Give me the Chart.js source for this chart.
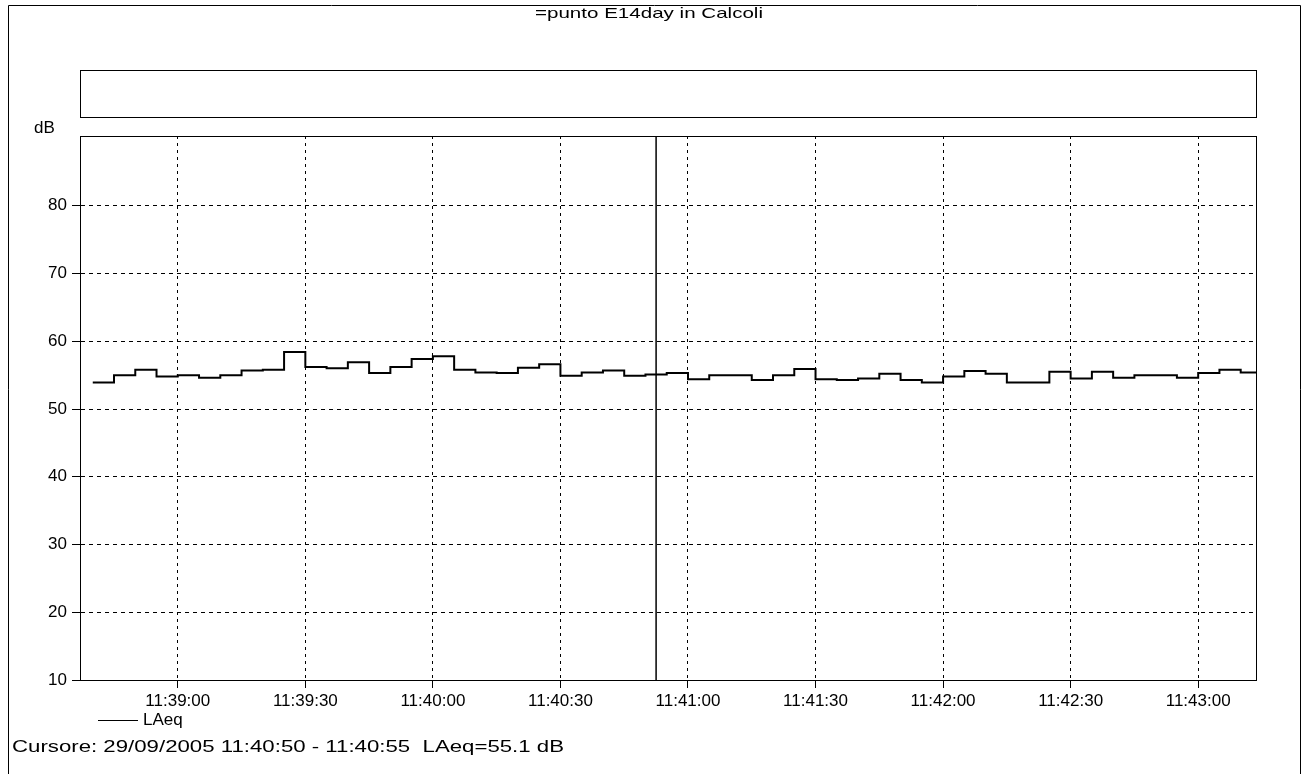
<!DOCTYPE html>
<html>
<head>
<meta charset="utf-8">
<script src="https://cdn.jsdelivr.net/npm/chart.js@4.4.0/dist/chart.umd.min.js"></script>
<style>
html, body { margin: 0; padding: 0; background: #fff; }
#wrap { width: 1309px; height: 774px; position: relative; }
</style>
</head>
<body>
<div id="wrap"><canvas id="c" width="1309" height="774"></canvas></div>
<script>
// testi del grafico
const chartTitle = '=punto E14day in Calcoli';
const seriesName = 'LAeq';
const unitLabel = 'dB';
const cursorText = 'Cursore: 29/09/2005 11:40:50 - 11:40:55  LAeq=55.1 dB';

// inizio di ogni intervallo da 5 s (l'ultimo valore chiude la scala a gradini)
const times = [
    '11:38:40', '11:38:45', '11:38:50', '11:38:55',
    '11:39:00', '11:39:05', '11:39:10', '11:39:15', '11:39:20', '11:39:25',
    '11:39:30', '11:39:35', '11:39:40', '11:39:45', '11:39:50', '11:39:55',
    '11:40:00', '11:40:05', '11:40:10', '11:40:15', '11:40:20', '11:40:25',
    '11:40:30', '11:40:35', '11:40:40', '11:40:45', '11:40:50', '11:40:55',
    '11:41:00', '11:41:05', '11:41:10', '11:41:15', '11:41:20', '11:41:25',
    '11:41:30', '11:41:35', '11:41:40', '11:41:45', '11:41:50', '11:41:55',
    '11:42:00', '11:42:05', '11:42:10', '11:42:15', '11:42:20', '11:42:25',
    '11:42:30', '11:42:35', '11:42:40', '11:42:45', '11:42:50', '11:42:55',
    '11:43:00', '11:43:05', '11:43:10', '11:43:15'
];

// LAeq in dB, uno per intervallo
const laeq = [
    53.9, 55.0, 55.8, 54.8,
    55.0, 54.6, 55.0, 55.7, 55.8, 58.4,
    56.2, 56.0, 56.9, 55.3, 56.2, 57.4,
    57.8, 55.8, 55.4, 55.3, 56.1, 56.6,
    54.9, 55.4, 55.7, 54.9, 55.1, 55.3,
    54.4, 55.0, 55.0, 54.3, 55.0, 55.9,
    54.4, 54.3, 54.5, 55.2, 54.3, 53.9,
    54.8, 55.6, 55.2, 53.9, 53.9, 55.5,
    54.5, 55.5, 54.6, 55.0, 55.0, 54.6,
    55.3, 55.8, 55.4
];

const xTickLabels = ['11:39:00', '11:39:30', '11:40:00', '11:40:30', '11:41:00',
    '11:41:30', '11:42:00', '11:42:30', '11:43:00'];
const yTickValues = [10, 20, 30, 40, 50, 60, 70, 80];
const xRange = ['11:38:37', '11:43:13.6'];
const yRange = [10, 90.3];
const cursorTime = '11:40:52.5';

const FONT = "'Liberation Sans', Arial, sans-serif";

function toSec(t) {
    const p = t.split(':');
    return +p[0] * 3600 + +p[1] * 60 + parseFloat(p[2]);
}

function fmt(sec) {
    const s = Math.round(sec);
    const h = Math.floor(s / 3600), m = Math.floor(s / 60) % 60, ss = s % 60;
    const two = n => String(n).padStart(2, '0');
    return h + ':' + two(m) + ':' + two(ss);
}

// testo allargato in orizzontale fino alla larghezza voluta (la stampa è "stirata")
function stretchText(ctx, text, x, y, width) {
    const w = ctx.measureText(text).width;
    ctx.save();
    ctx.translate(x, y);
    ctx.scale(width / w, 1);
    ctx.fillText(text, 0, 0);
    ctx.restore();
}

const points = times.map((t, i) => ({ x: toSec(t), y: laeq[Math.min(i, laeq.length - 1)] }));

// cornici, titolo, legenda, cursore
const decor = {
    id: 'decor',
    afterDatasetsDraw(chart) {
        const { ctx, chartArea: a, scales } = chart;
        const cx = scales.x.getPixelForValue(toSec(cursorTime));
        ctx.save();
        ctx.strokeStyle = '#000';
        ctx.lineWidth = 1.5;
        ctx.beginPath();
        ctx.moveTo(cx, a.top);
        ctx.lineTo(cx, a.bottom);
        ctx.stroke();
        ctx.restore();
    },
    afterDraw(chart) {
        const { ctx, chartArea: a } = chart;
        ctx.save();
        ctx.strokeStyle = '#000';
        ctx.lineWidth = 1;

        // riquadro del grafico
        ctx.strokeRect(a.left + 0.5, a.top + 0.5, a.right - a.left, a.bottom - a.top);
        // riquadro vuoto superiore
        ctx.strokeRect(a.left + 0.5, 70.5, a.right - a.left, 47);

        // cornice esterna
        ctx.beginPath();
        ctx.moveTo(8.5, 774);
        ctx.lineTo(8.5, 5.5);
        ctx.lineTo(1300.5, 5.5);
        ctx.lineTo(1300.5, 774);
        ctx.stroke();

        ctx.fillStyle = '#000';
        ctx.textBaseline = 'middle';
        ctx.textAlign = 'left';

        ctx.font = '15px ' + FONT;
        stretchText(ctx, chartTitle, 535, 14, 228);

        ctx.font = '17px ' + FONT;
        ctx.fillText(unitLabel, 34, 128);

        // legenda
        ctx.beginPath();
        ctx.moveTo(98, 720.5);
        ctx.lineTo(138, 720.5);
        ctx.stroke();
        ctx.font = '17px ' + FONT;
        ctx.fillText(seriesName, 143, 720);

        stretchText(ctx, cursorText, 12, 747, 552);
        ctx.restore();
    }
};

new Chart(document.getElementById('c'), {
    type: 'line',
    data: {
        datasets: [{
            label: seriesName,
            data: points,
            stepped: 'before',
            borderColor: '#000',
            borderWidth: 2,
            pointRadius: 0,
            fill: false
        }]
    },
    options: {
        responsive: false,
        animation: false,
        layout: { padding: { top: 136, right: 53, bottom: 64, left: 0 } },
        plugins: {
            legend: { display: false },
            tooltip: { enabled: false }
        },
        scales: {
            x: {
                type: 'linear',
                min: toSec(xRange[0]),
                max: toSec(xRange[1]),
                afterBuildTicks: s => { s.ticks = xTickLabels.map(t => ({ value: toSec(t) })); },
                afterFit: s => { s.height = 30; },
                ticks: {
                    callback: v => fmt(v),
                    color: '#000',
                    font: { family: FONT, size: 17 },
                    maxRotation: 0,
                    autoSkip: false,
                    padding: 3
                },
                grid: {
                    color: '#000',
                    lineWidth: 1,
                    tickLength: 8,
                    tickBorderDash: []
                },
                border: { display: true, color: '#000', width: 1, dash: [3, 4] }
            },
            y: {
                min: yRange[0],
                max: yRange[1],
                afterBuildTicks: s => { s.ticks = yTickValues.map(v => ({ value: v })); },
                afterFit: s => { s.width = 80; },
                ticks: {
                    color: '#000',
                    font: { family: FONT, size: 17 },
                    padding: 5
                },
                grid: {
                    color: '#000',
                    lineWidth: 1,
                    tickLength: 8,
                    tickBorderDash: []
                },
                border: { display: true, color: '#000', width: 1, dash: [4, 4] }
            }
        }
    },
    plugins: [decor]
});
</script>
</body>
</html>
